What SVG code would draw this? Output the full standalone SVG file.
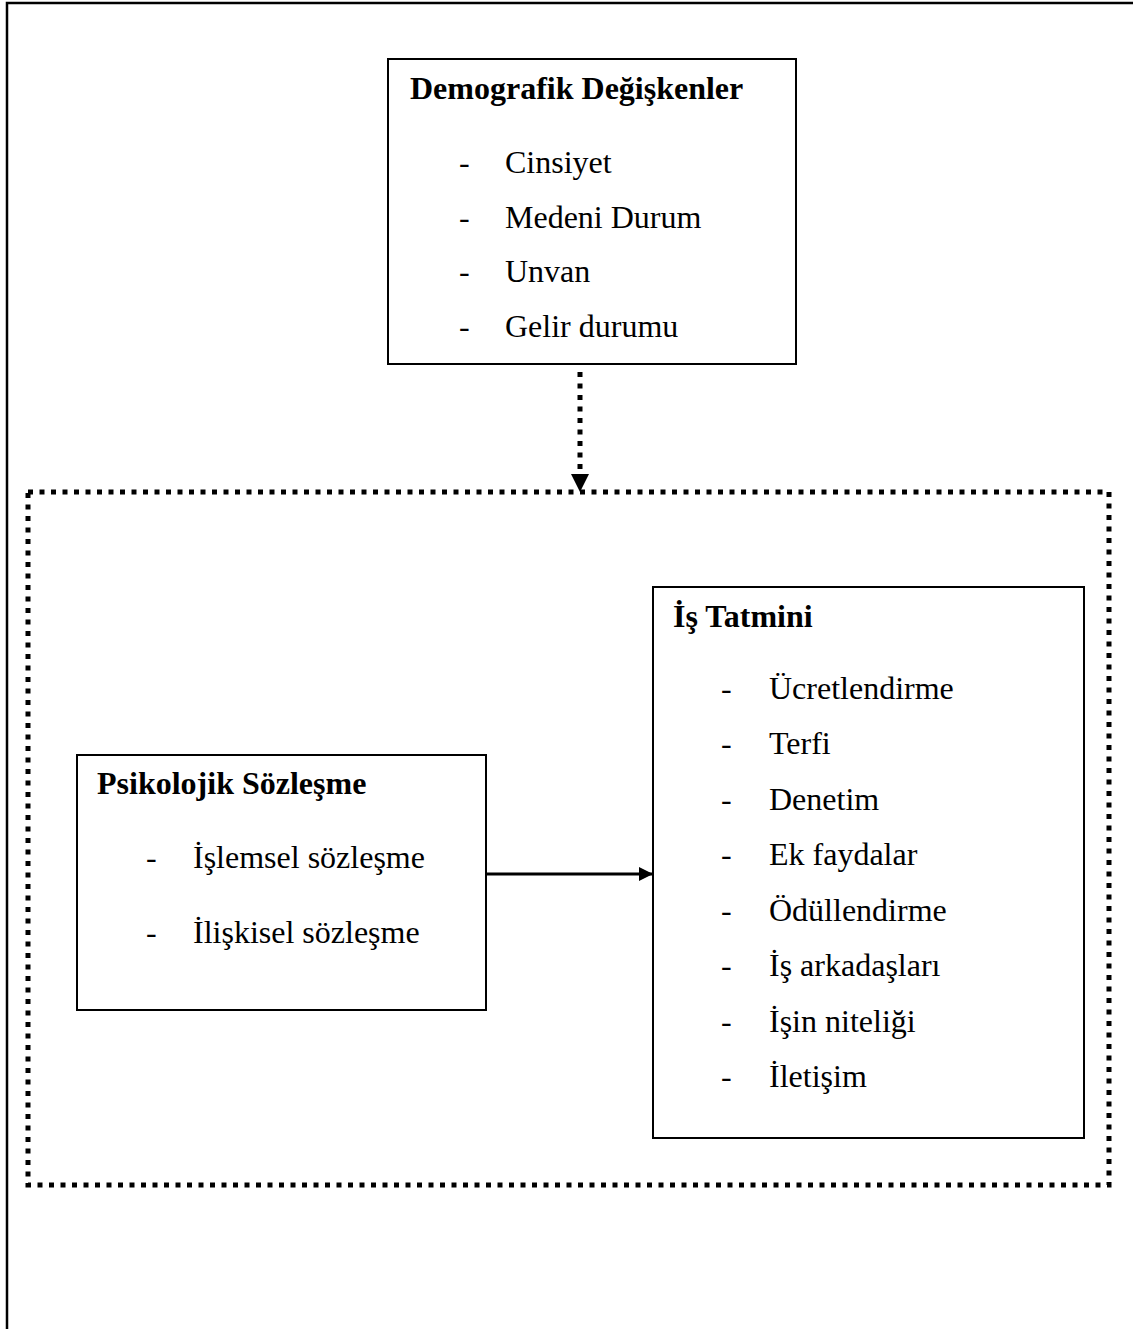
<svg xmlns="http://www.w3.org/2000/svg" width="1133" height="1329" viewBox="0 0 1133 1329">
  <style>
    .box { fill: #fff; stroke: #000; stroke-width: 2; }
    .title { font-family: "Liberation Serif", "Times New Roman", serif; font-size: 32px; font-weight: bold; fill: #000; }
    .item { font-family: "Liberation Serif", "Times New Roman", serif; font-size: 32px; fill: #000; }
    .dotted { fill: none; stroke: #000; stroke-width: 5; stroke-dasharray: 5 6.5; }
  </style>
  <defs>
    <marker id="arrowSolid" viewBox="0 0 10 10" refX="10" refY="5" markerWidth="16" markerHeight="14" markerUnits="userSpaceOnUse" orient="auto">
      <path d="M0,0 L10,5 L0,10 Z" fill="#000"/>
    </marker>
  </defs>

  <rect x="0" y="0" width="1133" height="1329" fill="#fff"/>

  <!-- page frame -->
  <path d="M7,1329 V3 H1133" fill="none" stroke="#000" stroke-width="2.5"/>

  <!-- dotted grouping frame -->
  <rect id="group-frame" class="dotted" x="28" y="492" width="1081" height="693"/>

  <g id="demografik">
    <rect class="box" x="388" y="59" width="408" height="305"/>
    <text class="title" x="410" y="99">Demografik Değişkenler</text>
    <g class="item">
      <text x="459" y="173">-</text><text x="505" y="173">Cinsiyet</text>
      <text x="459" y="228">-</text><text x="505" y="228">Medeni Durum</text>
      <text x="459" y="282">-</text><text x="505" y="282">Unvan</text>
      <text x="459" y="337">-</text><text x="505" y="337">Gelir durumu</text>
    </g>
  </g>

  <g id="psikolojik">
    <rect class="box" x="77" y="755" width="409" height="255"/>
    <text class="title" x="97" y="794">Psikolojik Sözleşme</text>
    <g class="item">
      <text x="146" y="868">-</text><text x="193" y="868">İşlemsel sözleşme</text>
      <text x="146" y="943">-</text><text x="193" y="943">İlişkisel sözleşme</text>
    </g>
  </g>

  <g id="is-tatmini">
    <rect class="box" x="653" y="587" width="431" height="551"/>
    <text class="title" x="673" y="627">İş Tatmini</text>
    <g class="item">
      <text x="721" y="699">-</text><text x="769" y="699">Ücretlendirme</text>
      <text x="721" y="754">-</text><text x="769" y="754">Terfi</text>
      <text x="721" y="810">-</text><text x="769" y="810">Denetim</text>
      <text x="721" y="865">-</text><text x="769" y="865">Ek faydalar</text>
      <text x="721" y="921">-</text><text x="769" y="921">Ödüllendirme</text>
      <text x="721" y="976">-</text><text x="769" y="976">İş arkadaşları</text>
      <text x="721" y="1032">-</text><text x="769" y="1032">İşin niteliği</text>
      <text x="721" y="1087">-</text><text x="769" y="1087">İletişim</text>
    </g>
  </g>

  <g id="connectors">
    <line x1="580" y1="372" x2="580" y2="476" class="dotted"/>
    <path d="M571,474 L589,474 L580,492 Z" fill="#000"/>
    <line x1="486" y1="874" x2="653" y2="874" stroke="#000" stroke-width="3" marker-end="url(#arrowSolid)"/>
  </g>
</svg>
